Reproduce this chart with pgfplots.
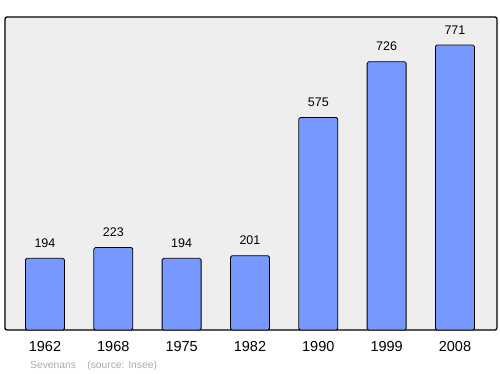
\documentclass[border=0pt]{standalone}
\usepackage{pgfplots}
\pgfplotsset{compat=1.18}
\usepackage{fontspec}
\setmainfont{Liberation Sans}
\definecolor{barblue}{HTML}{7799FF}
\definecolor{bggray}{HTML}{EEEEEE}
\definecolor{srcgray}{HTML}{AAAAAA}
\begin{document}
\begin{tikzpicture}
\useasboundingbox (0pt,0pt) rectangle (500pt,374pt);
\begin{axis}[
  at={(5pt,44pt)}, anchor=south west,
  scale only axis, width=492pt, height=313pt,
  xmin=-0.585, xmax=6.615, ymin=0, ymax=847,
  axis background/.style={fill=bggray},
  axis line style={line width=1.3pt, rounded corners=2pt},
  xtick={0,...,6},
  xticklabels={1962,1968,1975,1982,1990,1999,2008},
  x tick label style={font=\fontsize{14.5}{16}\selectfont, yshift=-8pt},
  ytick=\empty,
  major tick length=0pt,
  ybar, bar width=39pt,
  /pgf/number format/assume math mode=true,
  nodes near coords,
  every node near coord/.append style={font=\fontsize{12.5}{14}\selectfont, anchor=south, yshift=7pt},
  clip=false,
]
\addplot[fill=barblue, draw=black, line width=0.8pt, rounded corners=1.5pt] coordinates {
(0,194) (1,223) (2,194) (3,201) (4,575) (5,726) (6,771)};
\end{axis}
\node[anchor=base west, inner sep=0pt, text=srcgray, font=\fontsize{10.3}{12}\selectfont] at (30pt,5pt) {Sevenans\hspace{1.1em}(source: Insee)};
\end{tikzpicture}
\end{document}
